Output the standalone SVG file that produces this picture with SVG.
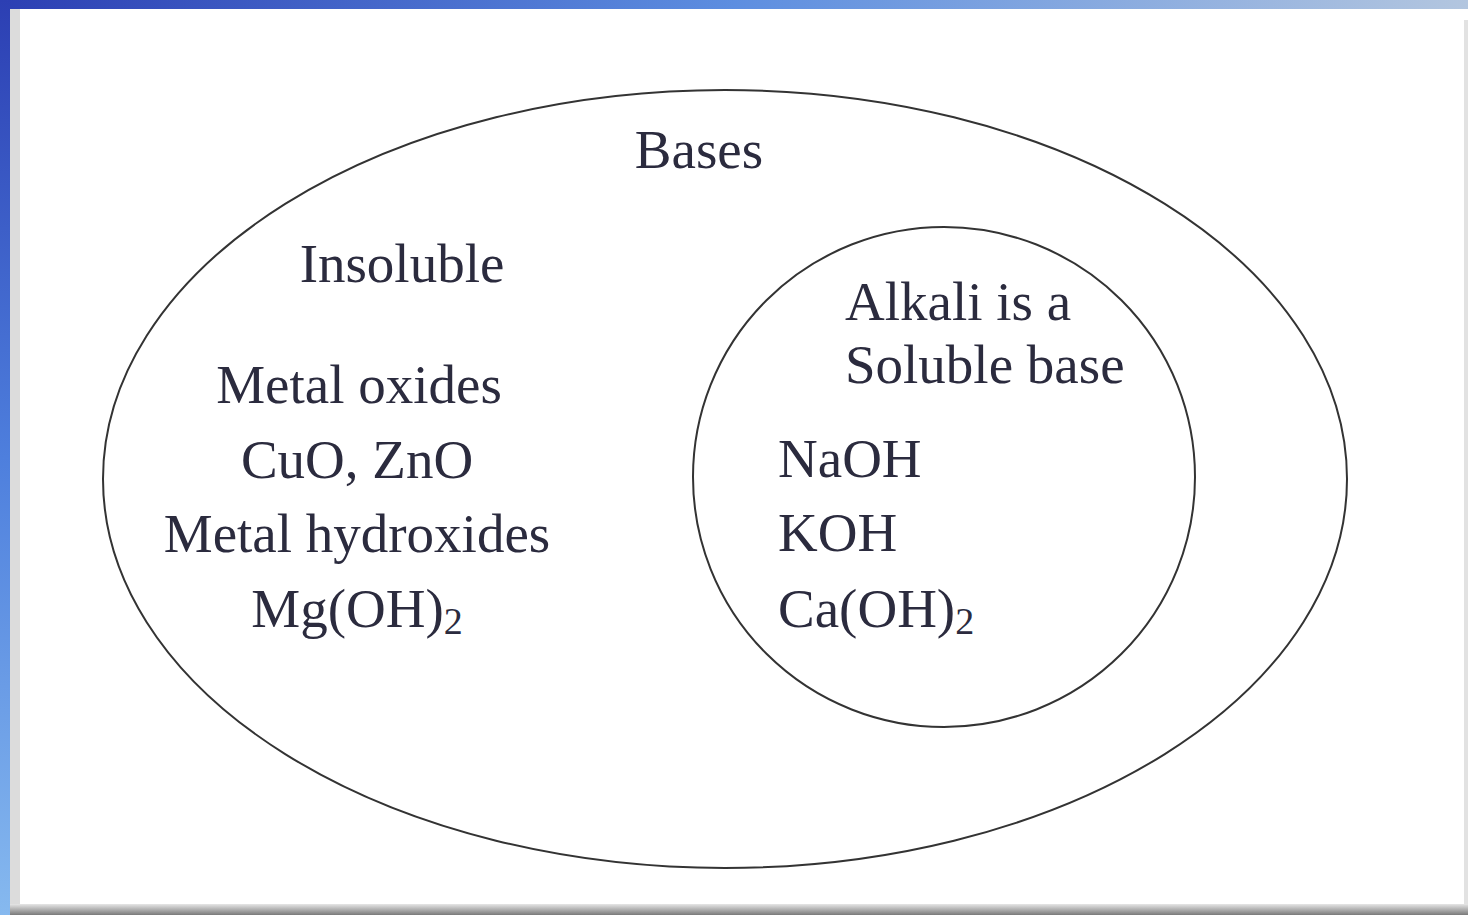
<svg xmlns="http://www.w3.org/2000/svg" width="1468" height="915" viewBox="0 0 1468 915">
<defs>
<linearGradient id="topband" x1="0" y1="0" x2="1" y2="0">
<stop offset="0" stop-color="#2c3fb3"/>
<stop offset="0.5" stop-color="#5d8ee0"/>
<stop offset="1" stop-color="#b3c6df"/>
</linearGradient>
<linearGradient id="leftband" x1="0" y1="0" x2="0" y2="1">
<stop offset="0" stop-color="#2c3fb3"/>
<stop offset="0.5" stop-color="#4e7fdd"/>
<stop offset="1" stop-color="#86b9ef"/>
</linearGradient>
<linearGradient id="bottomband" x1="0" y1="0" x2="0" y2="1">
<stop offset="0" stop-color="#e6e6e6"/>
<stop offset="1" stop-color="#7a7a7a"/>
</linearGradient>
<style>
.lbl{font-family:'Liberation Serif','DejaVu Serif',serif;font-size:55px;fill:#2b2b3e}
.c{text-anchor:middle}
.sub{font-size:38px}
.set{fill:none;stroke:#333;stroke-width:2}
</style>
</defs>
<rect x="0" y="0" width="1468" height="915" fill="#ffffff"/>
<rect x="0" y="0" width="1468" height="9" fill="url(#topband)"/>
<rect x="0" y="0" width="10" height="915" fill="url(#leftband)"/>
<rect x="10" y="9" width="10" height="896" fill="#dcdcdc"/>
<rect x="10" y="904" width="1458" height="11" fill="url(#bottomband)"/>
<rect x="1464" y="20" width="4" height="885" fill="#e2e2e2"/>
<g id="bases">
<ellipse class="set" cx="725" cy="479" rx="622" ry="389"/>
<text class="lbl c" x="699" y="168">Bases</text>
</g>
<g id="insoluble">
<text class="lbl c" x="402" y="282">Insoluble</text>
<text class="lbl c" x="359" y="403">Metal oxides</text>
<text class="lbl c" x="357" y="478">CuO, ZnO</text>
<text class="lbl c" x="357" y="552">Metal hydroxides</text>
<text class="lbl c" x="357" y="627">Mg(OH)<tspan class="sub" dy="7">2</tspan></text>
</g>
<g id="alkali">
<ellipse class="set" cx="944" cy="477" rx="251" ry="250"/>
<text class="lbl" x="845" y="320">Alkali is a</text>
<text class="lbl" x="845" y="383">Soluble base</text>
<text class="lbl" x="778" y="477">NaOH</text>
<text class="lbl" x="778" y="551">KOH</text>
<text class="lbl" x="778" y="627">Ca(OH)<tspan class="sub" dy="7">2</tspan></text>
</g>
<g id="connectors"/>
</svg>
